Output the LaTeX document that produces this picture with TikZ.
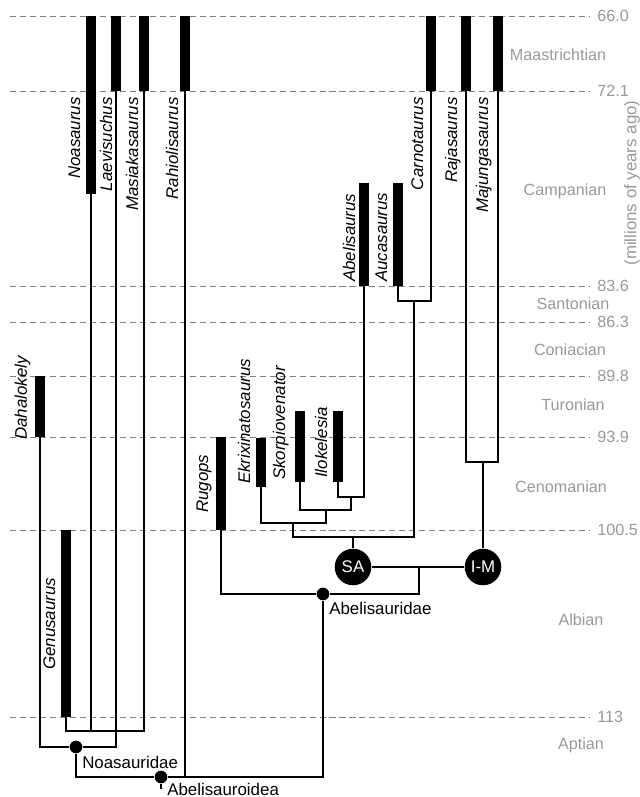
\documentclass[tikz,border=0pt]{standalone}
\usepackage{fontspec}
\setmainfont{Liberation Sans}
\begin{document}
\begin{tikzpicture}[x=0.025cm, y=-0.025cm,
    timeline/.style={gray, line width=0.7pt, dash pattern=on 4.3pt off 2.8pt},
    stagelab/.style={gray!80, inner sep=0pt, font=\fontsize{11.5}{13}\selectfont},
    taxbar/.style={line width=7pt},
    branch/.style={line width=1.4pt},
    taxlab/.style={rotate=90, inner sep=0pt, font=\fontsize{12}{14}\selectfont\itshape},
    cladedot/.style={circle, fill, inner sep=0pt, minimum size=9pt},
    cladelab/.style={anchor=west, inner sep=0pt, font=\fontsize{12}{14}\selectfont},
    bignode/.style={circle, fill, inner sep=0pt, minimum size=26pt, text=white, font=\fontsize{12}{14}\selectfont}]
  \useasboundingbox (0,0) rectangle (639,797);
  \foreach \y/\age in {16/66.0, 91/72.1, 286/83.6, 322/86.3, 376/89.8, 437/93.9, 530/100.5, 717/113}
  {
    \draw[timeline] (10,\y) -- (590,\y);
    \node[stagelab, anchor=west] (age\y) at (597,\y) {\age};
  }
  \foreach \n/\x/\y in {Maastrichtian/558/55, Campanian/565/191, Santonian/573/304, Coniacian/570/350, Turonian/573/405, Cenomanian/561/487, Albian/581/620, Aptian/581/745}
    \node[stagelab] (\n) at (\x,\y) {\n};
  \node[stagelab, rotate=90, font=\fontsize{12}{14}\selectfont] (unit) at (632,183) {(millions of years ago)};

  \foreach \n/\x/\t/\b in {dah/40/376/437, gen/66/530/717, noa/91/16/194, lae/116/16/91, mas/144/16/91, rah/185/16/91, rug/221/437/530, ekr/261/438/487, sko/300/411/482, ilo/338/411/482, abe/364/183/286, auc/398/183/286, car/431/16/91, raj/466/16/91, maj/498/16/91}
  {
    \coordinate (\n-top) at (\x,\t);
    \coordinate (\n) at (\x,\b);
    \draw[taxbar] (\n-top) -- (\n);
  }
  \foreach \n/\x/\txt in {noa/80/Noasaurus, lae/112/Laevisuchus, mas/138/Masiakasaurus, rah/178/Rahiolisaurus, car/423/Carnotaurus, raj/457/Rajasaurus, maj/488/Majungasaurus}
    \node[taxlab, anchor=base east] (\n-lab) at (\x,97) {\txt};
  \foreach \n/\x/\y/\txt in {dah/27/440/Dahalokely, gen/55/670/Genusaurus, rug/208/513/Rugops, ekr/250/484/Ekrixinatosaurus, sko/285/480/Skorpiovenator, ilo/327/478/Ilokelesia, abe/355/282/Abelisaurus, auc/387/282/Aucasaurus}
    \node[taxlab, anchor=base west] (\n-lab) at (\x,\y) {\txt};

  \node[cladedot] (nsd) at (76,747) {};
  \node[cladedot] (ald) at (161,777) {};
  \node[cladedot] (abd) at (323,594) {};
  \node[cladelab] (nsd-lab) at (82,762) {Noasauridae};
  \node[cladelab] (ald-lab) at (167,789) {Abelisauroidea};
  \node[cladelab] (abd-lab) at (329,608) {Abelisauridae};
  \node[bignode] (sa) at (353,567) {SA};
  \node[bignode] (im) at (483,567) {I-M};

  \coordinate (n1) at (116,731);
  \coordinate (root) at (161,789);
  \coordinate (c1) at (351,497);
  \coordinate (c2) at (326,510);
  \coordinate (c3) at (293,523);
  \coordinate (c4) at (414,301);
  \coordinate (c5) at (353,537);
  \coordinate (c6) at (483,462);
  \coordinate (c7) at (419,567);

  \draw[branch] (gen) |- (n1);
  \draw[branch] (mas) |- (n1);
  \draw[branch] (noa) -- (noa |- n1);
  \draw[branch] (dah) |- (nsd) -| (lae);
  \draw[branch] (nsd) |- (ald) -| (abd);
  \draw[branch] (rah) -- (rah |- ald);
  \draw[branch] (ald) -- (root);
  \draw[branch] (rug) |- (abd);
  \draw[branch] (abd) -| (c7);
  \draw[branch] (sa) -- (im);
  \draw[branch] (ilo) |- (c1) -| (abe);
  \draw[branch] (sko) |- (c2) -| (c1);
  \draw[branch] (ekr) |- (c3) -| (c2);
  \draw[branch] (auc) |- (c4) -| (car);
  \draw[branch] (c3) |- (c5) -| (c4);
  \draw[branch] (c5) -- (sa);
  \draw[branch] (raj) |- (c6) -| (maj);
  \draw[branch] (c6) -- (im);
\end{tikzpicture}
\end{document}
